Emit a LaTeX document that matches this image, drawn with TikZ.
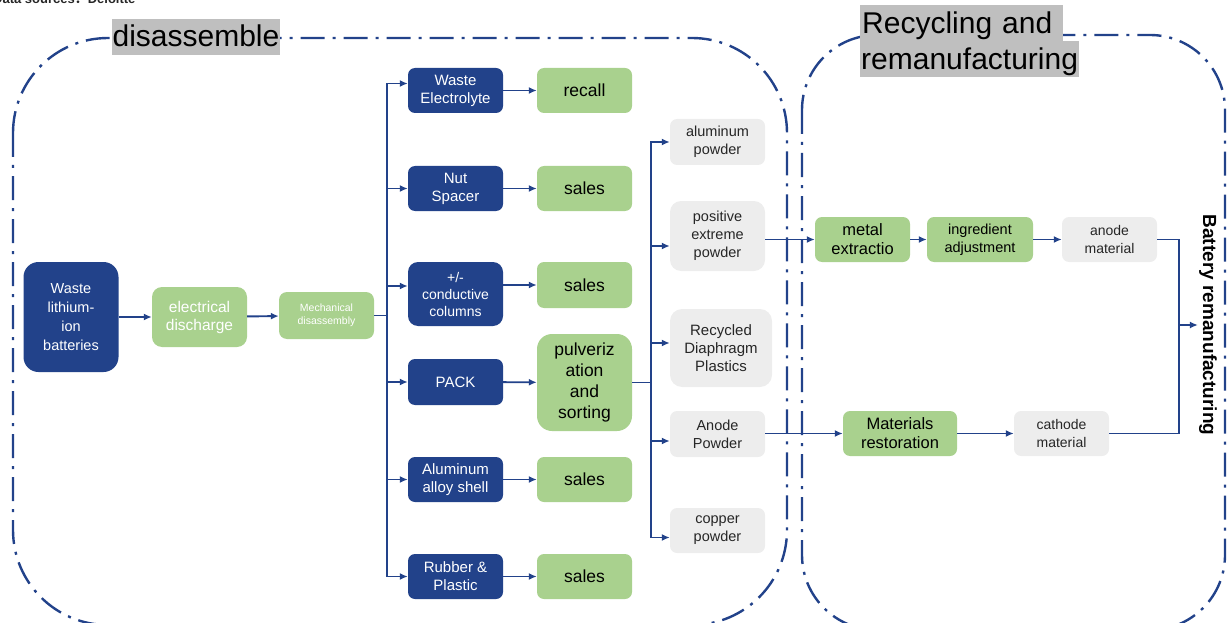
\documentclass[tikz,border=0pt]{standalone}
\usepackage{fontspec}
\setmainfont{Liberation Sans}
\newfontfamily\cjk{Noto Sans CJK SC}
\usepackage{tikz}
\usetikzlibrary{calc, shapes, arrows, arrows.meta}
\definecolor{darkblue}{RGB}{34,66,138}
\definecolor{lightgreen}{RGB}{169,209,142}
\definecolor{lightgrey}{RGB}{237,237,237}
\definecolor{labelgrey}{RGB}{191,191,191}
\definecolor{textgrey}{RGB}{38,38,38}
\tikzstyle{darkbox} = [rectangle, fill=darkblue, text=white, align=center, rounded corners=7pt, minimum width=95pt, minimum height=45pt, inner sep=1pt, font=\fontsize{15}{18}\selectfont]
\tikzstyle{greenbox} = [rectangle, fill=lightgreen, text=black, align=center, rounded corners=7pt, minimum width=95pt, minimum height=45pt, inner sep=1pt, font=\fontsize{17.5}{21}\selectfont]
\tikzstyle{greybox} = [rectangle, fill=lightgrey, text=textgrey, align=center, rounded corners=7pt, minimum width=95pt, minimum height=45pt, inner sep=1pt, font=\fontsize{14.5}{18}\selectfont]
\tikzstyle{heading} = [rectangle, fill=labelgrey, text=black, inner sep=1pt, text height=27pt, text depth=7pt, font=\fontsize{30}{36}\selectfont]
\tikzstyle{container} = [draw=darkblue, line width=2.4pt, dash pattern=on 24pt off 8pt on 3pt off 8pt]
\tikzstyle{flow} = [draw=darkblue, line width=1.9pt]

\begin{document}
\begin{tikzpicture}[x=1pt, y=-1pt, >={Latex[length=8pt, width=7pt]}]
        \clip (0, 0) rectangle (1229, 623);
        \node[anchor=base east, text=textgrey, font=\bfseries\fontsize{13}{15}\selectfont] at (139, 4) (source) {Data sources{\cjk ：}Deloitte};

        % dash-dot areas
        \draw[container, rounded corners=95pt] (13, 38) rectangle (787, 625);
        \draw[container, rounded corners=75pt] (802, 35) rectangle (1225, 630);
        \node[heading] at (196, 37) (disassemble) {disassemble};
        \node[heading, anchor=north west, minimum width=203pt, text width=199pt, align=left] at (860, 5) (recycling) {Recycling and};
        \node[heading, anchor=north west] at (860, 41) (remanufacturing) {remanufacturing};

        % disassembly
        \node[darkbox, minimum height=110pt, rounded corners=15pt, font=\fontsize{14.5}{19}\selectfont] at (71, 317) (waste) {Waste\\lithium-\\ion\\batteries};
        \node[greenbox, minimum height=60pt, rounded corners=10pt, text=white, font=\fontsize{15.5}{18}\selectfont] at (199.5, 317) (discharge) {electrical\\discharge};
        \node[greenbox, minimum height=47pt, rounded corners=8pt, text=white, font=\fontsize{10.5}{13}\selectfont] at (326.5, 315.5) (mechanical) {Mechanical\\disassembly};

        \node[darkbox] at (455.5, 90.5) (electrolyte) {Waste\\Electrolyte};
        \node[darkbox] at (455.5, 188.5) (spacer) {Nut\\Spacer};
        \node[darkbox, minimum height=64pt, rounded corners=10pt, font=\fontsize{14}{17}\selectfont] at (455.5, 294) (columns) {+/-\\conductive\\columns};
        \node[darkbox, minimum height=46pt] at (455.5, 382) (pack) {PACK};
        \node[darkbox] at (455.5, 479.5) (shell) {Aluminum\\alloy shell};
        \node[darkbox] at (455.5, 576.5) (rubber) {Rubber \&\\Plastic};

        \node[greenbox] at (584.5, 90.5) (recall) {recall};
        \node[greenbox] at (584.5, 188.5) (sales1) {sales};
        \node[greenbox, minimum height=46pt] at (584.5, 285) (sales2) {sales};
        \node[greenbox, minimum height=97pt, rounded corners=15pt] at (584.5, 382.5) (sorting) {pulveriz\\ation\\and\\sorting};
        \node[greenbox] at (584.5, 479.5) (sales3) {sales};
        \node[greenbox] at (584.5, 576.5) (sales4) {sales};

        \node[greybox, minimum height=46pt] at (717.5, 142) (aluminum) {aluminum\\powder};
        \node[greybox, minimum height=70pt, rounded corners=11pt] at (717.5, 236) (positive) {positive\\extreme\\powder};
        \node[greybox, minimum width=102pt, minimum height=78pt, rounded corners=12pt, font=\fontsize{15}{18}\selectfont] at (721, 348) (diaphragm) {Recycled\\Diaphragm\\Plastics};
        \node[greybox, minimum height=46pt] at (717.5, 434) (anode) {Anode\\Powder};
        \node[greybox] at (717.5, 530.5) (copper) {copper\\powder};

        % recycling and remanufacturing
        \node[greenbox, font=\fontsize{16.5}{19}\selectfont] at (862.5, 239.5) (extraction) {metal\\extractio};
        \node[greenbox, minimum width=106pt, font=\fontsize{14.5}{18}\selectfont] at (980, 239.5) (adjustment) {ingredient\\adjustment};
        \node[greybox, font=\fontsize{14}{18}\selectfont] at (1109.5, 239.5) (anodemat) {anode\\material};
        \node[greenbox, minimum width=114pt, font=\fontsize{16.5}{19}\selectfont] at (900, 433.5) (restoration) {Materials\\restoration};
        \node[greybox, font=\fontsize{14}{18}\selectfont] at (1061.5, 433.5) (cathodemat) {cathode\\material};
        \node[rotate=-90, inner sep=1pt, font=\bfseries\fontsize{19}{22}\selectfont] at (1208, 325) (battery) {Battery remanufacturing};

        \coordinate (busA) at (387, 315.5);
        \coordinate (busB) at (651, 382.5);
        \coordinate (join) at (1179, 325);

        \draw[flow, ->] (waste) -- (discharge);
        \draw[flow, ->] (discharge) -- (mechanical);
        \draw[flow] (mechanical) -- (busA);
        \draw[flow, ->] (busA) |- ([yshift=7pt]electrolyte.west);
        \draw[flow, ->] (busA) |- (spacer);
        \draw[flow, ->] (busA) |- ([yshift=8pt]columns.west);
        \draw[flow, ->] (busA) |- (pack);
        \draw[flow, ->] (busA) |- (shell);
        \draw[flow, ->] (busA) |- (rubber);

        \draw[flow, ->] (electrolyte) -- (recall);
        \draw[flow, ->] (spacer) -- (sales1);
        \draw[flow, ->] (columns.east |- sales2) -- (sales2);
        \draw[flow, ->] (pack) -- (sorting);
        \draw[flow, ->] (shell) -- (sales3);
        \draw[flow, ->] (rubber) -- (sales4);

        \draw[flow] (sorting) -- (busB);
        \draw[flow, ->] (busB) |- (aluminum);
        \draw[flow, ->] (busB) |- ([yshift=-10pt]positive.west);
        \draw[flow, ->] (busB) |- ([yshift=5pt]diaphragm.west);
        \draw[flow, ->] (busB) |- ([yshift=-7pt]anode.west);
        \draw[flow, ->] (busB) |- ([yshift=-7pt]copper.west);

        \draw[flow, ->] (positive.east |- extraction) -- (extraction);
        \draw[flow, ->] (anode.east |- restoration) -- (restoration);
        \draw[flow, ->] (extraction) -- (adjustment);
        \draw[flow, ->] (adjustment) -- (anodemat);
        \draw[flow, ->] (restoration) -- (cathodemat);
        \draw[flow] (anodemat) -| (join) |- (cathodemat);
        \draw[flow, ->] (join) -- (battery.south);
    \end{tikzpicture}
\end{document}
